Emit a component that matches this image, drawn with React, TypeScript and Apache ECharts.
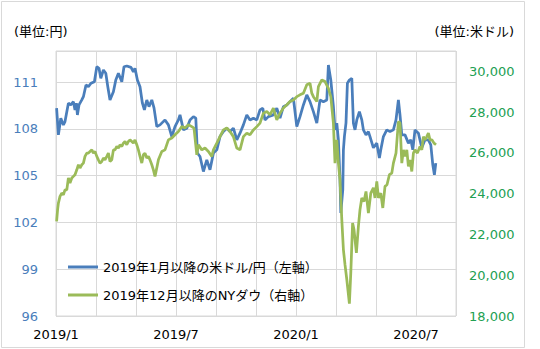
import React, { useEffect, useRef } from "react";
import * as echarts from "echarts";

// x positions are months since 2019/1 (0 = 2019/1, 12 = 2020/1)
const xTickMonths = [0, 6, 12, 18];
const xTickLabels = ["2019/1", "2019/7", "2020/1", "2020/7"];

const seriesNames = ["2019年1月以降の米ドル/円（左軸）", "2019年12月以降のNYダウ（右軸）"];

const usdMonths = [
  0.03, 0.12, 0.24, 0.37, 0.45, 0.62, 0.74, 0.87, 0.95, 1.02, 1.07, 1.15, 1.29, 1.37, 1.5, 1.62, 1.75, 1.92,
  2.04, 2.15, 2.24, 2.37, 2.49, 2.59, 2.7, 2.87, 2.99, 3.12, 3.29, 3.4, 3.54, 3.75, 3.87, 3.95, 4.07, 4.2,
  4.32, 4.42, 4.54, 4.65, 4.79, 4.9, 5.04, 5.2, 5.45, 5.62, 5.79, 5.95, 6.12, 6.2, 6.37, 6.54, 6.7, 6.87,
  6.99, 7.07, 7.2, 7.37, 7.54, 7.7, 7.87, 8.04, 8.2, 8.37, 8.54, 8.7, 8.87, 9.04, 9.2, 9.37, 9.54, 9.7,
  9.87, 10.04, 10.2, 10.34, 10.45, 10.62, 10.87, 11.04, 11.2, 11.37, 11.54, 11.7, 11.87, 12.04, 12.2, 12.37,
  12.54, 12.7, 12.87, 13.04, 13.2, 13.37, 13.54, 13.62, 13.74, 13.87, 13.95, 14.04, 14.12, 14.2, 14.24, 14.34,
  14.37, 14.42, 14.5, 14.57, 14.67, 14.79, 14.87, 14.95, 15.04, 15.17, 15.29, 15.37, 15.5, 15.62, 15.7, 15.87,
  16.04, 16.17, 16.24, 16.37, 16.54, 16.7, 16.87, 17.0, 17.12, 17.2, 17.29, 17.45, 17.62, 17.74, 17.84, 17.95,
  18.12, 18.29, 18.45, 18.62, 18.74, 18.84, 18.92, 18.99,
];
const usdValues = [
  109.33, 107.62, 108.69, 108.26, 108.47, 109.65, 109.54, 109.75, 109.22, 109.65, 108.9, 109.54, 109.86, 110.07,
  110.82, 110.71, 110.93, 111.03, 111.99, 111.89, 111.25, 111.78, 111.57, 110.71, 109.86, 110.39, 111.14, 111.57,
  111.03, 111.99, 112.04, 111.95, 111.67, 111.89, 111.14, 110.71, 109.65, 109.22, 109.86, 109.43, 109.86, 109.35,
  108.15, 108.26, 108.58, 108.26, 107.51, 108.15, 108.58, 108.9, 107.94, 108.05, 108.58, 108.79, 108.69, 106.45,
  106.23, 105.27, 106.02, 105.38, 106.45, 106.66, 107.51, 107.83, 108.05, 107.83, 108.05, 107.3, 107.73, 108.26,
  108.9, 108.58, 108.69, 108.58, 109.22, 109.33, 108.58, 108.79, 108.9, 109.33, 108.69, 109.43, 109.54, 109.75,
  109.97, 108.15, 108.79, 109.54, 110.18, 109.75, 109.11, 108.37, 109.86, 109.75, 109.86, 112.1, 111.14, 109.43,
  107.94, 108.37, 107.3, 104.74, 102.61, 104.1, 106.66, 107.51, 108.39, 110.93, 111.14, 111.25, 108.37, 107.94,
  108.58, 109.11, 108.58, 107.94, 107.62, 107.83, 107.51, 106.79, 107.09, 106.13, 106.66, 107.51, 107.94, 107.83,
  107.94, 108.58, 109.86, 108.9, 107.62, 107.62, 107.09, 107.3, 106.66, 107.94, 107.73, 106.79, 107.3, 107.3,
  106.98, 105.7, 105.06, 105.81,
];

const dowMonths = [
  0.03, 0.08, 0.12, 0.2, 0.29, 0.37, 0.45, 0.54, 0.62, 0.7, 0.79, 0.87, 0.95, 1.04, 1.12, 1.2, 1.29, 1.37, 1.45,
  1.54, 1.62, 1.7, 1.79, 1.87, 1.95, 2.04, 2.12, 2.2, 2.29, 2.37, 2.45, 2.54, 2.62, 2.7, 2.79, 2.87, 2.95, 3.04,
  3.12, 3.2, 3.29, 3.37, 3.45, 3.54, 3.62, 3.7, 3.79, 3.87, 3.95, 4.04, 4.12, 4.2, 4.29, 4.37, 4.45, 4.54, 4.62,
  4.7, 4.79, 4.87, 4.95, 5.0, 5.12, 5.29, 5.45, 5.62, 5.79, 5.95, 6.12, 6.29, 6.45, 6.62, 6.79, 6.9, 7.04, 7.12,
  7.29, 7.45, 7.62, 7.79, 7.87, 8.04, 8.2, 8.37, 8.54, 8.7, 8.87, 9.04, 9.2, 9.37, 9.54, 9.7, 9.87, 10.04, 10.2,
  10.37, 10.54, 10.7, 10.87, 11.04, 11.2, 11.37, 11.54, 11.7, 11.87, 12.04, 12.2, 12.37, 12.54, 12.7, 12.79,
  12.87, 13.04, 13.12, 13.29, 13.45, 13.62, 13.74, 13.87, 13.95, 14.04, 14.12, 14.2, 14.29, 14.37, 14.45, 14.54,
  14.67, 14.74, 14.83, 14.9, 15.02, 15.12, 15.2, 15.29, 15.4, 15.5, 15.62, 15.74, 15.87, 15.95, 16.04, 16.12,
  16.24, 16.34, 16.45, 16.55, 16.67, 16.79, 16.87, 17.0, 17.12, 17.2, 17.29, 17.37, 17.45, 17.54, 17.62, 17.7,
  17.79, 17.87, 17.95, 18.07, 18.2, 18.29, 18.37, 18.45, 18.54, 18.62, 18.7, 18.8, 18.9, 19.0,
];
const dowValues = [
  22640, 23220, 23540, 23870, 24030, 23950, 24190, 24190, 24770, 24520, 24770, 24850, 24930, 25170, 25420, 25260,
  25420, 25500, 25830, 25990, 25990, 26070, 26150, 25990, 26070, 25830, 25660, 25500, 25580, 25750, 25660, 25830,
  25990, 25580, 25660, 26150, 26150, 26320, 26240, 26400, 26320, 26480, 26560, 26400, 26560, 26640, 26560, 26480,
  26640, 26400, 26150, 25830, 25500, 25910, 25990, 25750, 25830, 25660, 25420, 25170, 24850, 25080, 25660, 26070,
  26150, 26640, 26730, 26890, 27050, 27290, 27220, 27380, 27290, 27220, 25910, 26400, 26150, 26240, 26070, 25830,
  26150, 26480, 26800, 27130, 27220, 27050, 26800, 26240, 26150, 26800, 26970, 26890, 27130, 27290, 27460, 27950,
  28030, 27870, 28200, 27620, 27950, 28200, 28360, 28520, 28600, 28760, 28850, 28930, 29340, 29420, 28930, 28760,
  28520, 29250, 29580, 29500, 29170, 28760, 27460, 25500, 26640, 25500, 24680, 22730, 21260, 20520, 19790, 18610,
  20120, 22560, 22240, 21100, 22400, 23220, 23790, 23620, 24110, 23050, 24030, 24290, 23790, 24600, 23790, 24030,
  23300, 24360, 24440, 24930, 25010, 25500, 25990, 27540, 27480, 25500, 26150, 25830, 26150, 25340, 25660, 25090,
  25990, 26150, 25990, 26320, 26150, 26800, 26640, 26800, 26970, 26640, 26640, 26480, 26400,
];

const FONT = "'DejaVu Sans', 'Noto Sans CJK JP', sans-serif";
const BLUE = "#4a7ebb";
const GREEN = "#9bbb59";
const GRID = "#d9d9d9";

export default function App() {
  const ref = useRef<HTMLDivElement>(null);

  useEffect(() => {
    if (!ref.current) return;
    const chart = echarts.init(ref.current, undefined, { renderer: "svg" });
    const usdData = usdMonths.map((m, i) => [m, usdValues[i]]);
    const dowData = dowMonths.map((m, i) => [m, dowValues[i]]);
    const tickMap: Record<number, string> = {};
    xTickMonths.forEach((m, i) => (tickMap[m] = xTickLabels[i]));

    chart.setOption({
      animation: false,
      backgroundColor: "#ffffff",
      textStyle: { fontFamily: FONT },
      grid: {
        left: 56,
        right: 84,
        top: 51,
        bottom: 33,
        show: true,
        borderColor: GRID,
        borderWidth: 1,
        backgroundColor: "transparent",
      },
      legend: {
        orient: "vertical",
        left: 63,
        top: 254,
        itemWidth: 30,
        itemHeight: 3,
        itemGap: 12,
        icon: "rect",
        data: seriesNames,
        textStyle: { fontSize: 13, color: "#000", fontFamily: FONT, lineHeight: 16 },
      },
      graphic: [
        {
          type: "rect",
          shape: { x: 1.5, y: 1.5, width: 523, height: 346 },
          style: { fill: "none", stroke: GRID, lineWidth: 1 },
          silent: true,
        },
        {
          type: "text",
          left: 14,
          top: 25,
          style: { text: "(単位:円)", fontSize: 13, fontFamily: FONT, fill: "#000" },
        },
        {
          type: "text",
          right: 26,
          top: 25,
          style: { text: "(単位:米ドル)", fontSize: 13, fontFamily: FONT, fill: "#000" },
        },
      ],
      xAxis: {
        type: "value",
        min: 0,
        max: 20,
        interval: 2,
        axisLine: { show: false },
        axisTick: { show: false },
        splitLine: { show: true, lineStyle: { color: GRID, width: 1 } },
        axisLabel: {
          margin: 12,
          fontSize: 13,
          color: "#000",
          fontFamily: FONT,
          formatter: (v: number) => tickMap[v] ?? "",
        },
      },
      yAxis: [
        {
          type: "value",
          min: 96,
          max: 113,
          interval: 3,
          position: "left",
          axisLine: { show: false },
          axisTick: { show: false },
          splitLine: { show: true, lineStyle: { color: GRID, width: 1 } },
          axisLabel: {
            margin: 18,
            fontSize: 13,
            color: BLUE,
            fontFamily: FONT,
            showMaxLabel: false,
          },
        },
        {
          type: "value",
          min: 18000,
          max: 31000,
          interval: 2000,
          position: "right",
          axisLine: { show: false },
          axisTick: { show: false },
          splitLine: { show: false },
          axisLabel: {
            margin: 13,
            fontSize: 13,
            color: "#22a052",
            fontFamily: FONT,
            showMaxLabel: false,
            formatter: (v: number) => v.toLocaleString("en-US"),
          },
        },
      ],
      series: [
        {
          name: seriesNames[0],
          type: "line",
          yAxisIndex: 0,
          data: usdData,
          symbol: "none",
          lineStyle: { color: BLUE, width: 2.75 },
          itemStyle: { color: BLUE },
        },
        {
          name: seriesNames[1],
          type: "line",
          yAxisIndex: 1,
          data: dowData,
          symbol: "none",
          lineStyle: { color: GREEN, width: 2.75 },
          itemStyle: { color: GREEN },
        },
      ],
    });
    return () => chart.dispose();
  }, []);

  return (
    <div
      ref={ref}
      style={{ position: "fixed", left: 0, top: 0, width: 540, height: 349, background: "#fff" }}
    />
  );
}
